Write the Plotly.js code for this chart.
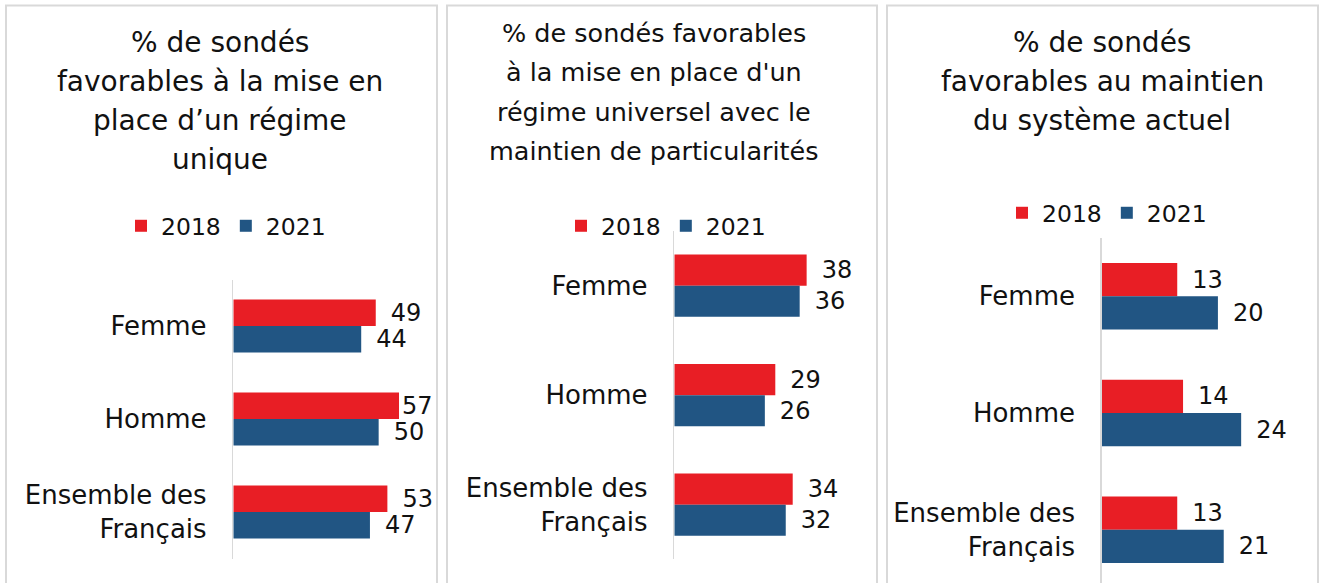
<!DOCTYPE html>
<html>
<head>
<meta charset="utf-8">
<script src="https://cdn.plot.ly/plotly-3.0.1.min.js"></script>
<style>
  html, body { margin: 0; padding: 0; background: #ffffff; }
  #chart { width: 1322px; height: 583px; }
</style>
</head>
<body>
<div id="chart"></div>
<script>
// ---- Data ----
const categories = ['Femme', 'Homme', 'Ensemble des<br>Français'];
const seriesNames = ['2018', '2021'];

const unique2018 = [49, 57, 53];
const unique2021 = [44, 50, 47];

const universel2018 = [38, 29, 34];
const universel2021 = [36, 26, 32];

const actuel2018 = [13, 14, 13];
const actuel2021 = [20, 24, 21];

const title1Lines = ['% de sondés', 'favorables à la mise en', 'place d’un régime', 'unique'];
const title2Lines = ["% de sondés favorables", "à la mise en place d'un", "régime universel avec le", "maintien de particularités"];
const title3Lines = ['% de sondés', 'favorables au maintien', 'du système actuel'];

// ---- Styling / layout helpers ----
const W = 1322, H = 583;
const px = x => x / W;
const py = y => 1 - y / H;
const FONT = '"DejaVu Sans", "Liberation Sans", sans-serif';
const RED = '#E81E25';
const BLUE = '#215583';
const TXT = '#111111';
const GRID = '#d9d9d9';

function barTrace(vals, name, color, xa, ya, legend, templates) {
  return {
    type: 'bar', orientation: 'h',
    x: vals, y: categories, name: name,
    xaxis: xa, yaxis: ya, legend: legend,
    marker: { color: color, line: { width: 0 } },
    texttemplate: templates || '\u2002%{x}',
    textposition: 'outside',
    constraintext: 'none',
    cliponaxis: false,
    textfont: { family: FONT, size: 24, color: TXT },
    hoverinfo: 'skip'
  };
}

const data = [
  barTrace(unique2018, seriesNames[0], RED, 'x', 'y', 'legend', ['\u2002%{x}', '%{x}', '\u2002%{x}']),
  barTrace(unique2021, seriesNames[1], BLUE, 'x', 'y', 'legend'),
  barTrace(universel2018, seriesNames[0], RED, 'x2', 'y2', 'legend2'),
  barTrace(universel2021, seriesNames[1], BLUE, 'x2', 'y2', 'legend2'),
  barTrace(actuel2018, seriesNames[0], RED, 'x3', 'y3', 'legend3'),
  barTrace(actuel2021, seriesNames[1], BLUE, 'x3', 'y3', 'legend3')
];

function xAxis(domain, range) {
  return { domain: domain, range: range, visible: false, fixedrange: true };
}
function yAxis(domain, range, anchor) {
  return {
    domain: domain, range: range, anchor: anchor, type: 'category',
    categoryorder: 'array', categoryarray: categories,
    showline: true, linecolor: GRID, linewidth: 1.5,
    showgrid: false, zeroline: false, ticks: '',
    ticklabelstandoff: 20, automargin: false,
    tickfont: { family: FONT, size: 26, color: TXT },
    fixedrange: true
  };
}
function legend(x, y) {
  return {
    orientation: 'h', x: x, y: y, xanchor: 'center', yanchor: 'middle',
    font: { family: FONT, size: 23.5, color: TXT },
    bgcolor: 'rgba(0,0,0,0)', itemclick: false, itemdoubleclick: false,
    traceorder: 'normal'
  };
}

const annotations = [];
function addTitle(lines, cx, baseline0, step, size) {
  lines.forEach((t, i) => {
    annotations.push({
      xref: 'paper', yref: 'paper',
      x: px(cx), y: py(baseline0 + i * step - 0.346 * size),
      xanchor: 'center', yanchor: 'middle',
      text: t, showarrow: false,
      font: { family: FONT, size: size, color: TXT }
    });
  });
}
addTitle(title1Lines, 220, 52, 39.2, 28);
addTitle(title2Lines, 654, 41.6, 39.4, 25.5);
addTitle(title3Lines, 1102, 52, 39, 28);

function border(x0, x1) {
  return {
    type: 'rect', xref: 'paper', yref: 'paper',
    x0: px(x0), x1: px(x1), y0: py(5.5), y1: py(620),
    line: { color: '#d9d9d9', width: 2 }, fillcolor: 'rgba(0,0,0,0)', layer: 'below'
  };
}

const layout = {
  width: W, height: H,
  margin: { l: 0, r: 0, t: 0, b: 0, pad: 0 },
  paper_bgcolor: '#ffffff', plot_bgcolor: 'rgba(0,0,0,0)',
  barmode: 'group', bargap: 0.43, bargroupgap: 0,
  xaxis: xAxis([px(233.3), px(436.8)], [0, 70]),
  yaxis: yAxis([py(558.5), py(279.5)], [2.5, -0.5], 'x'),
  xaxis2: xAxis([px(674.3), px(876.3)], [0, 58]),
  yaxis2: yAxis([py(559.4), py(230.9)], [2.5, -0.5], 'x2'),
  xaxis3: xAxis([px(1101.7), px(1316.7)], [0, 37]),
  yaxis3: yAxis([0, py(238)], [2.456, -0.5], 'x3'),
  legend: legend(px(226), py(226)),
  legend2: legend(px(666), py(226)),
  legend3: legend(px(1107), py(213)),
  annotations: annotations,
  shapes: [border(6, 437), border(447, 877), border(887, 1318)],
  showlegend: true
};

Plotly.newPlot('chart', data, layout, { displayModeBar: false, staticPlot: true });
</script>
</body>
</html>
